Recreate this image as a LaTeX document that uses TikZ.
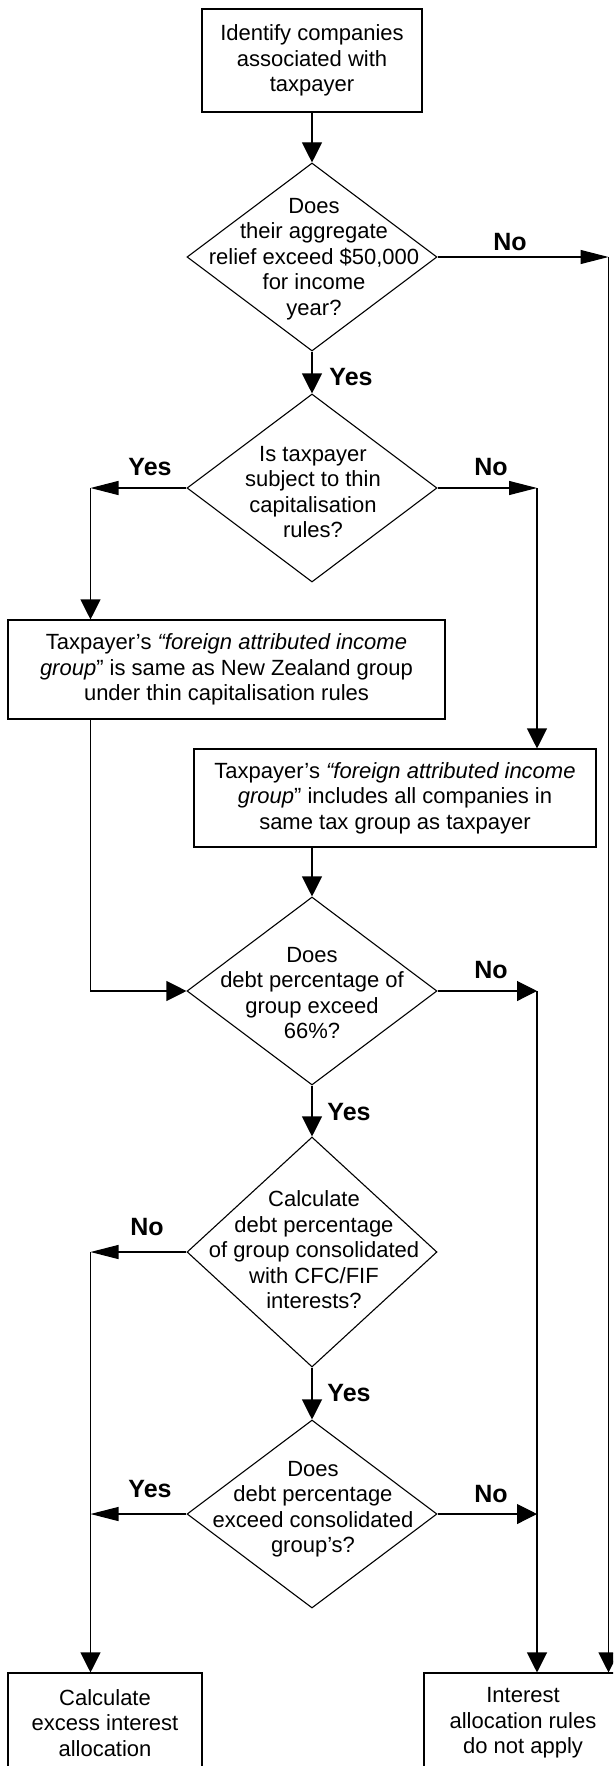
\documentclass[tikz,border=0pt]{standalone}
\usepackage{fontspec}
\setmainfont{Liberation Sans}
\usetikzlibrary{arrows.meta,shapes.geometric}

\begin{document}
\begin{tikzpicture}[x=1pt,y=-1pt,
  line width=1.1pt,
  font=\fontsize{22}{25.5}\selectfont,
  box/.style={draw, rectangle, inner sep=0pt, align=center},
  dia/.style={draw, diamond, inner sep=0pt, minimum width=250pt, minimum height=188pt},
  dtext/.style={align=center, inner sep=0pt},
  lab/.style={font=\fontsize{25}{29}\selectfont\bfseries, inner sep=0pt},
  arr/.style={-{Triangle[length=20pt,width=20pt]}},
  arrn/.style={-{Triangle[length=28pt,width=14pt]}},
]
\useasboundingbox (0,0) rectangle (613,1766);
\clip (0,0) rectangle (613,1766);

% process boxes
\node[box, minimum width=220pt, minimum height=103pt] (start) at (312,60.5)
  {Identify companies\\associated with\\taxpayer};
\node[box, minimum width=437pt, minimum height=99pt] (b2) at (226.5,669.5)
  {Taxpayer’s \textit{“foreign attributed income}\\\textit{group}” is same as New Zealand group\\under thin capitalisation rules};
\node[box, minimum width=402pt, minimum height=98pt] (b3) at (395,798)
  {Taxpayer’s \textit{“foreign attributed income}\\\textit{group}” includes all companies in\\same tax group as taxpayer};
\node[box, minimum width=194pt, minimum height=100pt] (b4) at (105,1723)
  {Calculate\\excess interest\\allocation};
\node[box, minimum width=198pt, minimum height=100pt] (b5) at (523,1723)
  {Interest\\allocation rules\\do not apply};

% decisions
\node[dia] (d1) at (312,257) {};
\node[dtext] (t1) at (314,259) {Does\\their aggregate\\relief exceed \$50,000\\for income\\year?};
\node[dia] (d2) at (312,488) {};
\node[dtext] (t2) at (313,492) {Is taxpayer\\subject to thin\\capitalisation\\rules?};
\node[dia] (d3) at (312,991) {};
\node[dtext] (t3) at (312,993) {Does\\debt percentage of\\group exceed\\66\%?};
\node[dia, minimum height=230pt] (d4) at (312,1252) {};
\node[dtext] (t4) at (314,1250) {Calculate\\debt percentage\\of group consolidated\\with CFC/FIF\\interests?};
\node[dia] (d5) at (312,1514) {};
\node[dtext] (t5) at (313,1509) {Does\\debt percentage\\exceed consolidated\\group’s?};

% rail corners
\coordinate (r1) at (608.5,257);
\coordinate (l2) at (90.5,488);
\coordinate (r2) at (537,488);
\coordinate (l3) at (90.5,991);
\coordinate (r3) at (537,991);
\coordinate (l4) at (90.5,1252);
\coordinate (l5) at (90.5,1514);
\coordinate (r5) at (537,1514);

% connectors
\draw[arr] (start.south) -- (d1.north);
\draw[arrn] (d1.east) -- (r1);
\draw[arr] (r1) -- (r1 |- b5.north);
\draw[arr] (d1.south) -- (d2.north);
\draw[arrn] (d2.west) -- (l2);
\draw[arr] (l2) -- (l2 |- b2.north);
\draw[arrn] (d2.east) -- (r2);
\draw[arr] (r2) -- (r2 |- b3.north);
\draw[arr] (b3.south -| d3.north) -- (d3.north);
\draw[arr] (l2 |- b2.south) -- (l3) -- (d3.west);
\draw[arr] (d3.east) -- (r3);
\draw[arr] (r3) -- (r3 |- b5.north);
\draw[arr] (d3.south) -- (d4.north);
\draw[arrn] (d4.west) -- (l4);
\draw[arr] (l4) -- (l4 |- b4.north);
\draw[arr] (d4.south) -- (d5.north);
\draw[arrn] (d5.west) -- (l5);
\draw[arr] (d5.east) -- (r5);

% branch labels
\node[lab] (n1) at (510,242) {No};
\node[lab] (y1) at (351,377) {Yes};
\node[lab] (y2) at (150,467) {Yes};
\node[lab] (n2) at (491,467) {No};
\node[lab] (n3) at (491,970) {No};
\node[lab] (y3) at (349,1112) {Yes};
\node[lab] (n4) at (147,1227) {No};
\node[lab] (y4) at (349,1393) {Yes};
\node[lab] (y5) at (150,1489) {Yes};
\node[lab] (n5) at (491,1494) {No};
\end{tikzpicture}
\end{document}
